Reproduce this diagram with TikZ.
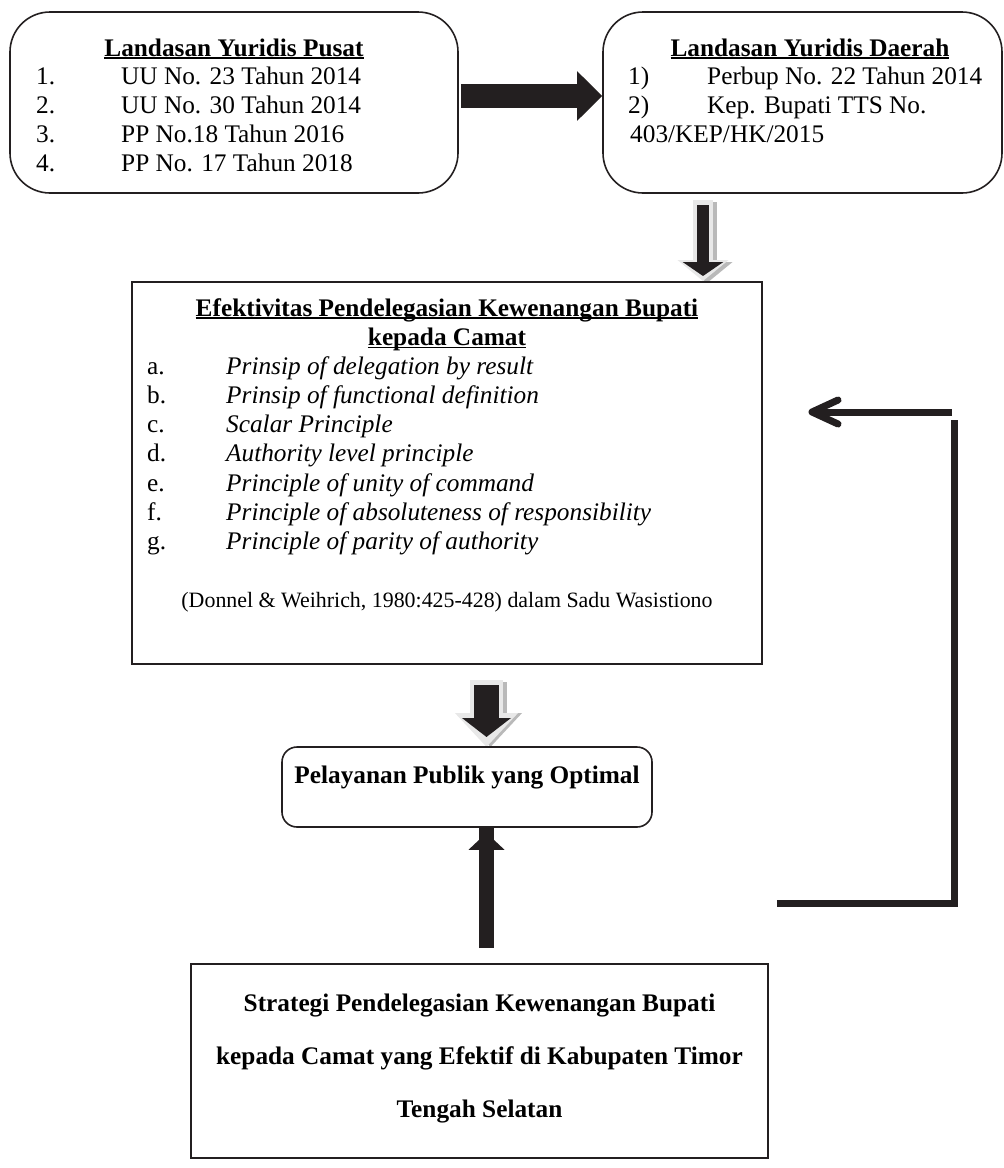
\documentclass[tikz,border=0pt]{standalone}
\usepackage{fontspec}
\setmainfont{Liberation Serif}
\usetikzlibrary{arrows.meta}
\definecolor{ink}{HTML}{231F20}
\newcommand{\ultext}[1]{\setbox0\hbox{#1}\rlap{\rule[-2.8pt]{\wd0}{1.7pt}}\box0}
\tikzset{
  box/.style={draw=ink, line width=1.6pt, inner sep=0},
  txt/.style={anchor=base west, inner sep=0},
  ctxt/.style={anchor=base, inner sep=0},
  small/.style={font=\fontsize{21.9}{25}\selectfont},
}
\begin{document}
\begin{tikzpicture}[x=1pt, y=-1pt, font=\fontsize{25.3}{29.1}\selectfont]
    \useasboundingbox (0,0) rectangle (1004,1168);
    \draw[gray!55, line width=20pt, -{Triangle[length=21pt,width=50pt]}] (707,202) -- (707,283);
    \draw[gray!18, line width=20pt, -{Triangle[length=21pt,width=50pt]}] (703,200) -- (703,281);
    \draw[ink, line width=12pt, -{Triangle[length=14pt,width=40pt]}] (703,205) -- (703,276);
    \draw[gray!55, line width=33pt, -{Triangle[length=34pt,width=61pt]}] (490.5,682) -- (490.5,747);
    \draw[gray!18, line width=33pt, -{Triangle[length=34pt,width=61pt]}] (486.5,680) -- (486.5,747);
    \draw[ink, line width=25pt, -{Triangle[length=19pt,width=48pt]}] (486.5,685) -- (486.5,737);
    \node[box, rounded corners=40pt, minimum width=448pt, minimum height=181pt] (pusat) at (234,102.5) {};
    \node[box, rounded corners=40pt, minimum width=399pt, minimum height=181pt] (daerah) at (802.5,102.5) {};
    \node[box, minimum width=630pt, minimum height=382pt] (efektif) at (447,473) {};
    \node[box, rounded corners=15pt, minimum width=370pt, minimum height=80pt] (pelayanan) at (467,787) {};
    \node[box, minimum width=577pt, minimum height=194pt] (strategi) at (479.5,1061) {};
    \node[ctxt] (pusatT) at (234,56) {\textbf{\ultext{Landasan Yuridis Pusat}}};
    \node[txt] (p1) at (36,84.5) {1.};
    \node[txt] (p1t) at (121,84.5) {UU No. 23 Tahun 2014};
    \node[txt] (p2) at (36,113.5) {2.};
    \node[txt] (p2t) at (121,113.5) {UU No. 30 Tahun 2014};
    \node[txt] (p3) at (36,142.5) {3.};
    \node[txt] (p3t) at (121,142.5) {PP No.18 Tahun 2016};
    \node[txt] (p4) at (36,171.5) {4.};
    \node[txt] (p4t) at (121,171.5) {PP No. 17 Tahun 2018};
    \node[ctxt] (daerahT) at (810,56) {\textbf{\ultext{Landasan Yuridis Daerah}}};
    \node[txt] (d1) at (628,84.5) {1)};
    \node[txt] (d1t) at (707,84.5) {Perbup No. 22 Tahun 2014};
    \node[txt] (d2) at (628,113.5) {2)};
    \node[txt] (d2t) at (707,113.5) {Kep. Bupati TTS No.};
    \node[txt] (d2u) at (630,142.5) {403/KEP/HK/2015};
    \node[ctxt] (efektifT) at (447,316) {\textbf{\ultext{Efektivitas Pendelegasian Kewenangan Bupati}}};
    \node[ctxt] (efektifU) at (447,345.5) {\textbf{\ultext{kepada Camat}}};
    \node[txt] (ea) at (147,374.6) {a.};
    \node[txt] (eat) at (226,374.6) {\textit{Prinsip of delegation by result}};
    \node[txt] (eb) at (147,403.7) {b.};
    \node[txt] (ebt) at (226,403.7) {\textit{Prinsip of functional definition}};
    \node[txt] (ec) at (147,432.8) {c.};
    \node[txt] (ect) at (226,432.8) {\textit{Scalar Principle}};
    \node[txt] (ed) at (147,461.9) {d.};
    \node[txt] (edt) at (226,461.9) {\textit{Authority level principle}};
    \node[txt] (ee) at (147,491) {e.};
    \node[txt] (eet) at (226,491) {\textit{Principle of unity of command}};
    \node[txt] (ef) at (147,520.1) {f.};
    \node[txt] (eft) at (226,520.1) {\textit{Principle of absoluteness of responsibility}};
    \node[txt] (eg) at (147,549.2) {g.};
    \node[txt] (egt) at (226,549.2) {\textit{Principle of parity of authority}};
    \node[ctxt, small] (sumber) at (447,607) {(Donnel \& Weihrich, 1980:425-428) dalam Sadu Wasistiono};
    \node[ctxt] (pelayananT) at (467,783) {\textbf{Pelayanan Publik yang Optimal}};
    \node[ctxt] (s1) at (479.5,1011) {\textbf{Strategi Pendelegasian Kewenangan Bupati}};
    \node[ctxt] (s2) at (479.5,1064) {\textbf{kepada Camat yang Efektif di Kabupaten Timor}};
    \node[ctxt] (s3) at (479.5,1117) {\textbf{Tengah Selatan}};
    \draw[ink, line width=24pt, -{Triangle[length=25pt,width=48pt]}] (pusat.east |- 0,96) ++(2,0) -- (daerah.west |- 0,96);
    \draw[ink, line width=15pt, -{Triangle[length=17pt,width=35pt]}] (486.5,948) -- (pelayanan.south -| 486.5,0) ++(0,5);
    \coordinate (balik) at (954.5,420);
    \coordinate (ujung) at (812,412);
    \draw[ink, line width=7pt] (strategi.east |- 0,903) ++(8,0) -- (954.5,903) -- (balik);
    \draw[ink, line width=7pt] (952,412) -- (816,412);
    \draw[ink, line width=7pt, line cap=round, line join=round] (838,400) -- (ujung) -- (838,424);
\end{tikzpicture}
\end{document}
